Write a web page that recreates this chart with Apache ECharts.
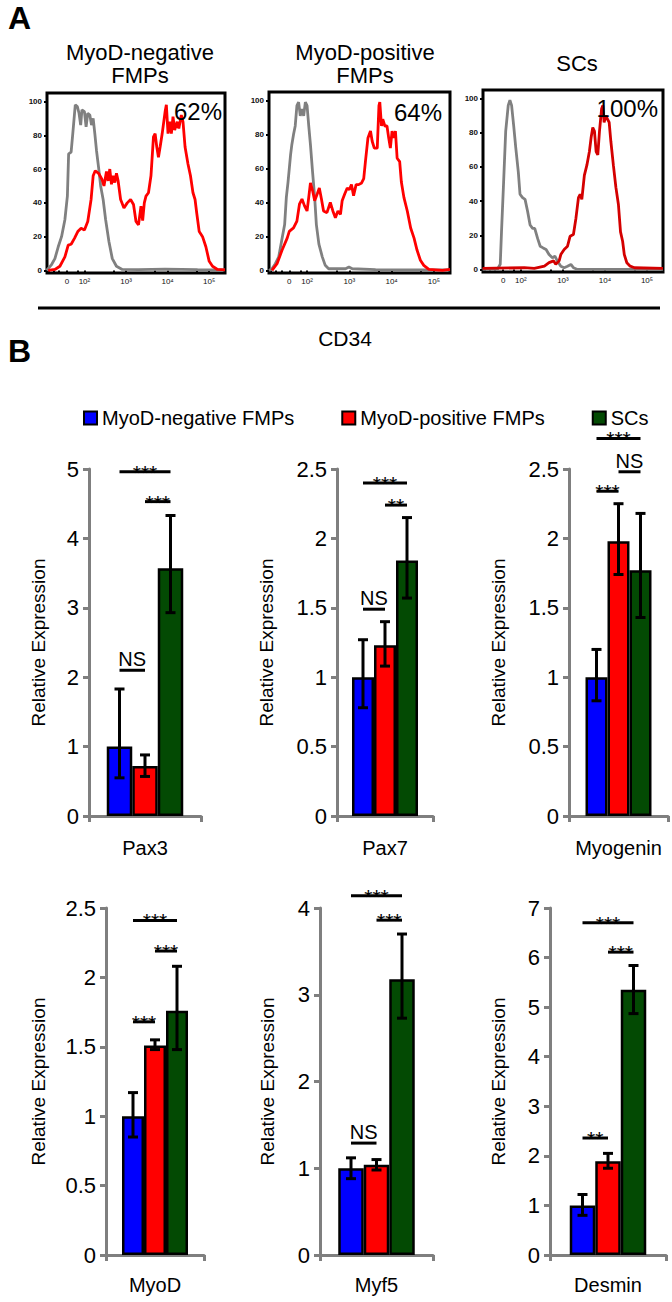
<!DOCTYPE html>
<html><head><meta charset="utf-8">
<script src="https://cdn.jsdelivr.net/npm/echarts@6/dist/echarts.min.js"></script>
<style>html,body{margin:0;padding:0;background:#fff}#c{width:672px;height:1302px}</style>
</head><body><div id="c"></div>
<script>
// ---------- Panel A data (CD34 flow histograms) ----------
const histTitles = ['MyoD-negative\nFMPs', 'MyoD-positive\nFMPs', 'SCs'];
const histPercents = ['62%', '64%', '100%'];
const cd34TickValues = [1.58, 2, 3, 4, 5];
const cd34TickLabels = ['0', '10²', '10³', '10⁴', '10⁵'];
const cd34MinorTicks = [1.15, 1.27, 1.39, 1.58, 1.84, 2, 2.7, 3, 3.7, 4, 4.7, 5];
const countTicks = [0, 20, 40, 60, 80, 100];
const axisLabelTitle = 'CD34';

const negIsotype = [[1.09,0],[1.21,3.5],[1.29,7],[1.37,14],[1.45,20],[1.53,30],[1.59,44],[1.62,69],[1.68,70],[1.72,81],[1.78,98],[1.83,97],[1.87,93],[1.91,86],[1.94,95],[2.00,94],[2.04,85],[2.08,93],[2.13,92],[2.17,86],[2.21,90],[2.25,81],[2.29,71],[2.34,61],[2.39,50],[2.45,42],[2.51,30],[2.59,17],[2.67,7],[2.77,2.5],[2.91,0.6],[3.30,0.5],[3.94,0.8],[4.72,0.5],[5.38,0.3]];
const negCD34 = [[1.13,0],[1.29,0.6],[1.41,2.5],[1.53,8],[1.61,15],[1.68,15.5],[1.76,19],[1.84,23],[1.92,25],[2.00,24],[2.08,29],[2.16,42],[2.21,56],[2.26,59],[2.34,57.5],[2.42,54],[2.47,50],[2.53,58.5],[2.57,53],[2.61,60],[2.65,51],[2.69,56],[2.73,52],[2.77,57.5],[2.81,53],[2.87,42],[2.95,37],[3.03,40],[3.11,42],[3.18,39],[3.24,29],[3.30,27],[3.36,38],[3.40,29.5],[3.44,40],[3.48,44],[3.54,46],[3.60,56],[3.66,79],[3.70,81],[3.74,73],[3.78,67],[3.82,73],[3.87,81],[3.94,94],[3.97,98],[4.01,81],[4.05,88],[4.09,81],[4.13,91],[4.17,83],[4.23,88],[4.27,84],[4.33,92],[4.37,88],[4.42,73],[4.49,63],[4.55,56],[4.61,46],[4.66,42],[4.70,34],[4.76,23],[4.84,20],[4.92,14],[5.00,5.4],[5.08,2.5],[5.20,0.6],[5.38,0.3]];
const posIsotype = [[1.10,0],[1.17,1],[1.25,4],[1.33,8],[1.41,19],[1.47,27],[1.51,43],[1.55,52],[1.61,68],[1.64,74],[1.68,80],[1.72,85],[1.76,97],[1.80,99],[1.84,91],[1.88,95],[1.92,91],[1.96,99],[2.00,97],[2.04,85],[2.08,74],[2.13,58],[2.18,43],[2.22,27],[2.28,15.5],[2.36,8],[2.43,3],[2.51,1],[2.91,1],[2.99,2],[3.07,1],[3.62,0.5],[4.80,0.3],[5.38,0.3]];
const posCD34 = [[1.17,0],[1.29,4],[1.41,12],[1.53,19],[1.58,23],[1.68,25],[1.76,29],[1.82,39],[1.88,42],[1.94,38],[2.00,35],[2.04,43],[2.08,51.5],[2.13,47],[2.18,41],[2.24,45],[2.29,48.5],[2.34,42],[2.39,35],[2.47,34],[2.55,40],[2.61,35],[2.67,31],[2.73,35],[2.79,33],[2.83,41],[2.89,45],[2.95,48.5],[3.00,47.5],[3.05,50.5],[3.10,44],[3.16,50.5],[3.22,50.5],[3.29,51.5],[3.34,54],[3.38,64],[3.44,78],[3.50,82],[3.54,76],[3.59,72],[3.66,72],[3.70,97],[3.72,99],[3.76,85],[3.79,89],[3.84,85],[3.89,85],[3.93,78],[3.97,72],[4.01,82],[4.05,78],[4.09,82],[4.13,66],[4.19,64],[4.23,52],[4.29,43],[4.37,35],[4.45,25],[4.53,19],[4.60,12],[4.68,6],[4.76,3],[4.88,0.6],[5.20,0],[5.38,0.6]];
const scIsotype = [[1.09,0],[1.44,0],[1.51,3],[1.54,22],[1.59,51],[1.64,81],[1.70,96],[1.74,99],[1.78,96],[1.83,84],[1.88,71],[1.94,57],[1.98,44],[2.04,42],[2.10,41],[2.16,34],[2.22,26],[2.28,24],[2.33,24],[2.40,18],[2.46,13.6],[2.53,12.6],[2.60,11.7],[2.67,8.7],[2.75,6.8],[2.81,7.8],[2.87,4.9],[2.95,1.9],[3.03,1],[3.11,1.9],[3.19,2.9],[3.25,1],[3.35,0],[5.38,0]];
const scCD34 = [[1.09,0.6],[2.08,1],[2.32,0.6],[2.56,2],[2.67,4],[2.78,5],[2.83,3],[2.91,5],[2.95,8.7],[3.03,11.7],[3.11,13.6],[3.17,19.4],[3.25,20.4],[3.31,30],[3.37,42],[3.41,44],[3.45,41],[3.51,55],[3.57,61],[3.63,69],[3.67,77],[3.71,83],[3.75,81],[3.79,69],[3.83,67],[3.87,81],[3.92,94],[3.95,96],[3.98,86],[4.02,90],[4.06,88],[4.10,86],[4.14,75],[4.20,61],[4.26,48],[4.32,38],[4.37,22],[4.42,16.5],[4.46,8.7],[4.52,3.9],[4.60,1.9],[4.70,1],[5.38,0.6]];

// ---------- Panel B data (relative expression) ----------
const genes = ['Pax3', 'Pax7', 'Myogenin', 'MyoD', 'Myf5', 'Desmin'];
const groups = ['MyoD-negative FMPs', 'MyoD-positive FMPs', 'SCs'];
const negMean = [1.00, 1.00, 1.00, 1.00, 1.00, 1.00];
const posMean = [0.72, 1.23, 1.98, 1.51, 1.04, 1.89];
const scMean  = [3.57, 1.84, 1.77, 1.76, 3.18, 5.35];
const negErr = [[0.55,1.83],[0.78,1.27],[0.83,1.20],[0.85,1.17],[0.88,1.12],[0.80,1.22]];
const posErr = [[0.57,0.88],[1.08,1.40],[1.74,2.25],[1.48,1.55],[0.98,1.10],[1.75,2.05]];
const scErr  = [[2.93,4.33],[1.57,2.15],[1.43,2.18],[1.48,2.08],[2.73,3.70],[4.87,5.84]];
const yMax  = [5, 2.5, 2.5, 2.5, 4, 7];
const yStep = [1, 0.5, 0.5, 0.5, 1, 1];
// [fromGroup, toGroup, height, label]
const sigPax3     = [[0,2,4.96,'***'],[1,2,4.53,'***'],[0,1,2.10,'NS']];
const sigPax7     = [[0,2,2.40,'***'],[1,2,2.24,'**'],[0,1,1.49,'NS']];
const sigMyogenin = [[0,2,2.72,'***'],[1,2,2.48,'NS'],[0,1,2.34,'***']];
const sigMyoD     = [[0,2,2.41,'***'],[1,2,2.19,'***'],[0,1,1.68,'***']];
const sigMyf5     = [[0,2,4.14,'***'],[1,2,3.86,'***'],[0,1,1.29,'NS']];
const sigDesmin   = [[0,2,6.70,'***'],[1,2,6.11,'***'],[0,1,2.36,'**']];
const sigMarks = [sigPax3, sigPax7, sigMyogenin, sigMyoD, sigMyf5, sigDesmin];

// ---------- styling / layout ----------
const FONT = '"Liberation Sans", Arial, Helvetica, sans-serif';
const groupColors = ['#0000ff', '#ff0000', '#034a03'];
const histLayout = [
  {left:47, top:93, width:178, height:180, titleX:140, pctX:222, pctY:111, red:'#ff0000'},
  {left:269, top:92, width:181, height:181, titleX:365, pctX:442, pctY:112, red:'#ff0000'},
  {left:483, top:90, width:180, height:182, titleX:577, pctX:658, pctY:108, red:'#d40000'}
];
const histData = [[negIsotype, negCD34], [posIsotype, posCD34], [scIsotype, scCD34]];
const barLayout = [
  {left:89, top:469, width:112, height:347, bw:25.5, nameGap:41, labelMargin:22},
  {left:337, top:469, width:96, height:347, bw:22, nameGap:61, labelMargin:22},
  {left:569, top:469, width:99, height:347, bw:22, nameGap:61, labelMargin:22},
  {left:106, top:908, width:98, height:347, bw:22, nameGap:58, labelMargin:20},
  {left:320, top:908, width:113, height:347, bw:25.5, nameGap:43, labelMargin:20},
  {left:550, top:908, width:116, height:347, bw:25.5, nameGap:42, labelMargin:20}
];

const grid = [], xAxis = [], yAxis = [], series = [], graphic = [];

histLayout.forEach((L, k) => {
  grid.push({left:L.left, top:L.top, width:L.width, height:L.height, show:true, borderColor:'#000', borderWidth:3, backgroundColor:'transparent'});
  xAxis.push({type:'value', gridIndex:k, min:1.1, max:5.38,
    axisLine:{show:false}, splitLine:{show:false},
    axisTick:{show:true, customValues:cd34MinorTicks, length:3, lineStyle:{color:'#000', width:2}},
    axisLabel:{show:true, customValues:cd34TickValues, fontSize:8, color:'#111', fontFamily:FONT, margin:4,
      formatter:(v) => { const i = cd34TickValues.findIndex(t => Math.abs(t - v) < 1e-6); return i >= 0 ? cd34TickLabels[i] : ''; }}});
  yAxis.push({type:'value', gridIndex:k, min:-1.5, max:105,
    axisLine:{show:false}, splitLine:{show:false},
    axisTick:{show:true, customValues:countTicks, length:3, lineStyle:{color:'#000', width:2}},
    axisLabel:{show:true, customValues:countTicks, fontSize:8, color:'#111', fontFamily:FONT, margin:5, fontWeight:'bold'}});
  series.push({type:'line', xAxisIndex:k, yAxisIndex:k, data:histData[k][0], showSymbol:false, silent:true,
    lineStyle:{color:'#808080', width:2.8}, z:3});
  series.push({type:'line', xAxisIndex:k, yAxisIndex:k, data:histData[k][1], showSymbol:false, silent:true,
    lineStyle:{color:L.red, width:2.8}, z:4});
  graphic.push({type:'text', x:L.titleX, y:63.5, style:{text:histTitles[k], font:'22px ' + FONT, fill:'#000', align:'center', verticalAlign:'middle', lineHeight:23}});
  graphic.push({type:'text', x:L.pctX, y:L.pctY, z:10, style:{text:histPercents[k], font:'24px ' + FONT, fill:'#000', align:'right', verticalAlign:'middle'}});
});

// panel letters, CD34 bracket
graphic.push({type:'text', x:8, y:18, style:{text:'A', font:'bold 32px ' + FONT, fill:'#000', align:'left', verticalAlign:'middle'}});
graphic.push({type:'text', x:8, y:351, style:{text:'B', font:'bold 32px ' + FONT, fill:'#000', align:'left', verticalAlign:'middle'}});
graphic.push({type:'line', shape:{x1:38, y1:308, x2:660, y2:308}, style:{stroke:'#000', lineWidth:3}});
graphic.push({type:'text', x:345, y:338, style:{text:axisLabelTitle, font:'21px ' + FONT, fill:'#000', align:'center', verticalAlign:'middle'}});

const means = [negMean, posMean, scMean];
const errs = [negErr, posErr, scErr];

barLayout.forEach((L, g) => {
  const gi = g + 3;
  grid.push({left:L.left, top:L.top, width:L.width, height:L.height});
  xAxis.push({type:'category', gridIndex:gi, data:[genes[g]],
    axisLine:{show:true, lineStyle:{color:'#7f7f7f', width:3}},
    axisTick:{show:true, length:6, lineStyle:{color:'#7f7f7f', width:3}},
    axisLabel:{fontSize:20, color:'#000', fontFamily:FONT, margin:L.labelMargin}});
  yAxis.push({type:'value', gridIndex:gi, min:0, max:yMax[g], interval:yStep[g],
    axisLine:{show:true, lineStyle:{color:'#7f7f7f', width:3}},
    axisTick:{show:true, length:6, lineStyle:{color:'#7f7f7f', width:3}},
    splitLine:{show:false},
    axisLabel:{fontSize:22, color:'#000', fontFamily:FONT, margin:10},
    name:'Relative Expression', nameLocation:'middle', nameGap:L.nameGap,
    nameTextStyle:{fontSize:19, color:'#000', fontFamily:FONT}});
  groups.forEach((name, i) => {
    series.push({type:'bar', name:name, xAxisIndex:gi, yAxisIndex:gi, data:[means[i][g]],
      barWidth:L.bw, barGap:'0%', silent:true,
      itemStyle:{color:groupColors[i], borderColor:'#000', borderWidth:2.5}});
  });
  const bw = L.bw;
  series.push({type:'custom', xAxisIndex:gi, yAxisIndex:gi, silent:true, z:5,
    data: groups.map((_, i) => [0, errs[i][g][0], errs[i][g][1], i]),
    encode:{x:0, y:[1, 2]},
    renderItem:(params, api) => {
      const lo = api.coord([api.value(0), api.value(1)]);
      const hi = api.coord([api.value(0), api.value(2)]);
      const x = lo[0] + (api.value(3) - 1) * bw;
      const cap = 5, st = {stroke:'#000', lineWidth:3};
      return {type:'group', children:[
        {type:'line', shape:{x1:x, y1:lo[1], x2:x, y2:hi[1]}, style:st},
        {type:'line', shape:{x1:x-cap, y1:hi[1], x2:x+cap, y2:hi[1]}, style:st},
        {type:'line', shape:{x1:x-cap, y1:lo[1], x2:x+cap, y2:lo[1]}, style:st}
      ]};
    }});
  const sig = sigMarks[g];
  series.push({type:'custom', xAxisIndex:gi, yAxisIndex:gi, silent:true, z:6, clip:false,
    data: sig.map(s => [0, s[2]]),
    encode:{x:0, y:1},
    renderItem:(params, api) => {
      const s = sig[params.dataIndex];
      const c = api.coord([api.value(0), api.value(1)]);
      const x1 = c[0] + (s[0] - 1) * bw, x2 = c[0] + (s[1] - 1) * bw;
      const isStar = s[3] !== 'NS';
      return {type:'group', children:[
        {type:'line', shape:{x1:x1, y1:c[1], x2:x2, y2:c[1]}, style:{stroke:'#000', lineWidth:3}},
        isStar
          ? {type:'text', x:(x1 + x2) / 2, y:c[1] + 0.5,
              style:{text:s[3], font:'21px ' + FONT, fill:'#000', align:'center', verticalAlign:'middle', lineHeight:8}}
          : {type:'text', x:(x1 + x2) / 2, y:c[1] - 11,
              style:{text:s[3], font:'20px ' + FONT, fill:'#000', align:'center', verticalAlign:'middle', lineHeight:14}}
      ]};
    }});
});

const chart = echarts.init(document.getElementById('c'), null, {renderer:'svg', width:672, height:1302});
chart.setOption({
  backgroundColor:'#fff',
  animation:false,
  legend:{data:groups, left:78, top:403, itemWidth:13, itemHeight:13, itemGap:47, icon:'rect',
    textStyle:{fontSize:20, color:'#000', fontFamily:FONT}, selectedMode:false},
  grid, xAxis, yAxis, series, graphic
});
</script></body></html>
